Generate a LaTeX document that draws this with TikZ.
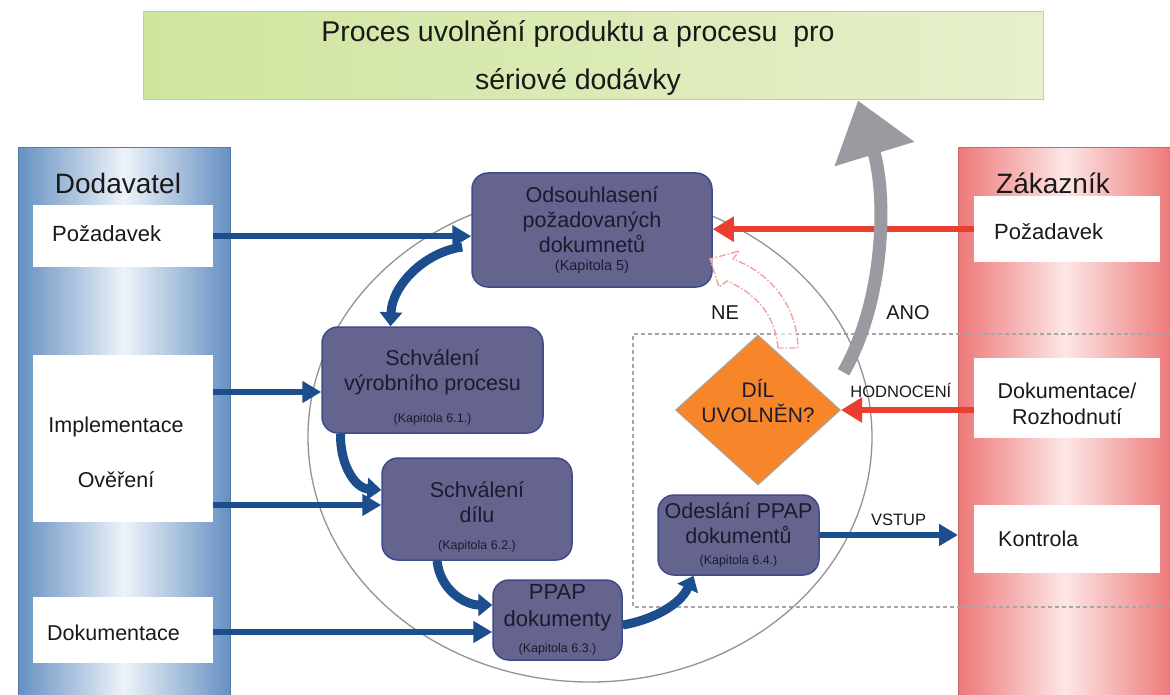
\documentclass[tikz,border=0pt]{standalone}
\usepackage{fontspec}
\setmainfont{Liberation Sans}
\usetikzlibrary{arrows.meta,shapes.geometric,calc}
\definecolor{boxfill}{HTML}{64648E}
\definecolor{boxline}{HTML}{3F4C8C}
\definecolor{boxtext}{HTML}{1B1B2E}
\definecolor{arrblue}{HTML}{1C4E8E}
\definecolor{arrred}{HTML}{E83F2E}
\definecolor{panblue}{HTML}{6590C2}
\definecolor{panbluel}{HTML}{EEF3F9}
\definecolor{panred}{HTML}{EE7878}
\definecolor{panredl}{HTML}{FDE6E6}
\definecolor{titleL}{HTML}{CFE59D}
\definecolor{titleR}{HTML}{E6F0CD}
\definecolor{titleline}{HTML}{BCD394}
\definecolor{orangeD}{HTML}{F7862B}
\definecolor{grayarr}{HTML}{9A9AA0}
\definecolor{pinkd}{HTML}{F2A3A0}
\newcommand\fs[2]{\fontsize{#1}{#2}\selectfont}
\begin{document}
\begin{tikzpicture}[x=1pt,y=-1pt,
  proc/.style={draw=boxline, line width=1.5pt, fill=boxfill, rounded corners=16pt,
    text=boxtext, align=center, inner sep=0pt, font=\fs{21.5}{25}},
  whitebox/.style={fill=white, inner sep=0pt, anchor=north west},
  plain/.style={inner sep=0pt, text=black!90},
  bluearr/.style={draw=arrblue, line width=6pt, -{Triangle[length=19pt,width=21pt]}},
  curvearr/.style={draw=arrblue, line width=9pt, -{Triangle[length=14pt,width=22pt]}},
  redarr/.style={draw=arrred, line width=6.5pt, -{Triangle[length=21pt,width=24pt]}},
  dashrect/.style={draw=gray!70, line width=1.5pt, dash pattern=on 4pt off 3pt},
]
\useasboundingbox (0,0) rectangle (1170,695);
\fill[white] (0,0) rectangle (1170,695);

% title
\node[draw=titleline, line width=1pt, left color=titleL, right color=titleR,
  minimum width=900pt, minimum height=88pt, inner sep=0pt] (title) at (593,56) {};
\node[plain, align=center, font=\fs{28.5}{48}] (titlet) at (578,58)
  {Proces uvolnění produktu a procesu\ \ pro\\sériové dodávky};

% panels
\node[draw=panblue!85!black, left color=panblue, right color=panblue, middle color=panbluel,
  minimum width=212pt, minimum height=552pt, inner sep=0pt, anchor=north west] (dod) at (18,147) {};
\node[draw=panred!85!black, left color=panred, right color=panred, middle color=panredl,
  minimum width=214pt, minimum height=552pt, inner sep=0pt, anchor=north west] (zak) at (958,147) {};

\node[plain, font=\fs{28}{32}] (dodt) at (118,183) {Dodavatel};
\node[plain, font=\fs{28}{32}] (zakt) at (1053,183) {Zákazník};

% left white boxes
\node[whitebox, minimum width=180pt, minimum height=62pt] (dreq) at (33,205) {};
\node[whitebox, minimum width=180pt, minimum height=167pt] (impl) at (33,355) {};
\node[whitebox, minimum width=180pt, minimum height=66pt] (ddok) at (33,597) {};
\node[plain, anchor=west, font=\fs{22}{25}] (dreqt) at (52,234) {Požadavek};
\node[plain, font=\fs{21.5}{25}] (implt) at (116,427) {Implementace};
\node[plain, font=\fs{21.5}{25}] (overt) at (116,480) {Ověření};
\node[plain, anchor=west, font=\fs{21.5}{25}] (ddokt) at (47,633) {Dokumentace};

% dashed region
\draw[dashrect] (1170,334) -- (633,334) -- (633,607) -- (1170,607);

% right white boxes
\node[whitebox, minimum width=186pt, minimum height=66pt] (zreq) at (974,196) {};
\node[whitebox, minimum width=186pt, minimum height=80pt] (zdok) at (974,358) {};
\node[whitebox, minimum width=186pt, minimum height=68pt] (zkon) at (974,505) {};
\node[plain, anchor=west, font=\fs{22}{25}] (zreqt) at (994,232) {Požadavek};
\node[plain, align=center, font=\fs{21.5}{26}] (zdokt) at (1067,404) {Dokumentace/\\Rozhodnutí};
\node[plain, anchor=west, font=\fs{21.5}{25}] (zkont) at (998,539) {Kontrola};

% cycle
\node[draw=gray!85, line width=1.3pt, ellipse, minimum width=564pt, minimum height=490pt,
  inner sep=0pt] (cyc) at (590,437) {};

% process boxes
\node[proc, minimum width=240pt, minimum height=114pt] (odso) at (592,230)
  {Odsouhlasení\\požadovaných\\dokumnetů\\[-7pt]{\fs{14.5}{16}(Kapitola 5)}};
\node[proc, minimum width=221pt, minimum height=106pt] (vyr) at (432.5,380)
  {\rule{0pt}{31pt}Schválení\\výrobního procesu\\[7pt]{\fs{12.5}{14}(Kapitola 6.1.)}};
\node[proc, minimum width=190pt, minimum height=102pt] (dil) at (477,509)
  {\rule{0pt}{31pt}Schválení\\dílu\\[2pt]{\fs{12.5}{14}(Kapitola 6.2.)}};
\node[proc, minimum width=129pt, minimum height=80pt, font=\fs{22}{27}] (ppap) at (557.5,620)
  {PPAP\\dokumenty\\[-1pt]{\fs{12.5}{14}(Kapitola 6.3.)}};
\node[proc, minimum width=161pt, minimum height=80pt] (odes) at (738.5,535)
  {Odeslání PPAP\\dokumentů\\[-4pt]{\fs{12.5}{14}(Kapitola 6.4.)}};

% decision
\node[diamond, draw=gray!70, line width=1pt, fill=orangeD, minimum width=165pt,
  minimum height=150pt, inner sep=0pt] (dia) at (758,410) {};
\node[plain, align=center, text=boxtext, font=\fs{21}{25}] (diat) at (758,401) {DÍL\\UVOLNĚN?};

% NE hollow dashed arrow
\draw[draw=pinkd, line width=1.4pt, dash pattern=on 7pt off 2pt on 1.5pt off 2pt, fill=white, fill opacity=0.6]
  (778,348) .. controls (775,315) and (757,294) .. (727,281) -- (719,287) -- (710,259)
  -- (739,251) -- (733,259) .. controls (770,273) and (797,305) .. (798,348) -- cycle;

% supplier inputs
\coordinate (v2) at ([yshift=-12pt]vyr.west);
\coordinate (v3) at ([yshift=4pt]dil.west);
\coordinate (v4) at ([yshift=-12pt]ppap.west);
\draw[bluearr] (dreq.east) -- (dreq.east -| odso.west);
\draw[bluearr] (impl.east |- v2) -- (v2);
\draw[bluearr] (impl.east |- v3) -- (v3);
\draw[bluearr] (ddok.east |- v4) -- (v4);

% cycle arrows
\draw[curvearr] ([xshift=-9pt,yshift=-17pt]odso.west) .. controls (425,252) and (392,285) .. ([xshift=-42pt]vyr.north);
\draw[curvearr] ([xshift=-92pt]vyr.south) .. controls (340,465) and (355,488) .. ([yshift=19pt]dil.west);
\draw[curvearr] ([xshift=-40pt]dil.south) .. controls (440,590) and (465,605) .. ([yshift=15pt]ppap.west);
\draw[curvearr] ([yshift=-5pt]ppap.east) .. controls (652,620) and (680,605) .. ([xshift=-45pt]odes.south);

% output to customer
\draw[bluearr] (odes.east) -- (odes.east -| zak.west)
  node[pos=0.57, above=6pt, font=\fs{16.5}{20}, text=black!90, inner sep=0pt] (vstup) {VSTUP};

% customer arrows
\draw[redarr] (zreq.west) -- (zreq.west -| odso.east);
\draw[redarr] (zdok.west |- dia.east) -- (dia.east)
  node[pos=0.55, above=9pt, font=\fs{16.5}{18}, text=black!90, inner sep=0pt] (hodn) {HODNOCENÍ};

% ANO grey arrow
\coordinate (anos) at ([xshift=44pt]dia.north east);
\draw[draw=grayarr, line width=13pt, -{Triangle[length=56pt,width=80pt]}]
  (anos) .. controls (885,300) and (887,195) .. ([xshift=265pt]title.south);

\node[plain, font=\fs{20}{24}] (ne) at (725,313) {NE};
\node[plain, font=\fs{20}{24}] (ano) at (908,313) {ANO};
\end{tikzpicture}
\end{document}
